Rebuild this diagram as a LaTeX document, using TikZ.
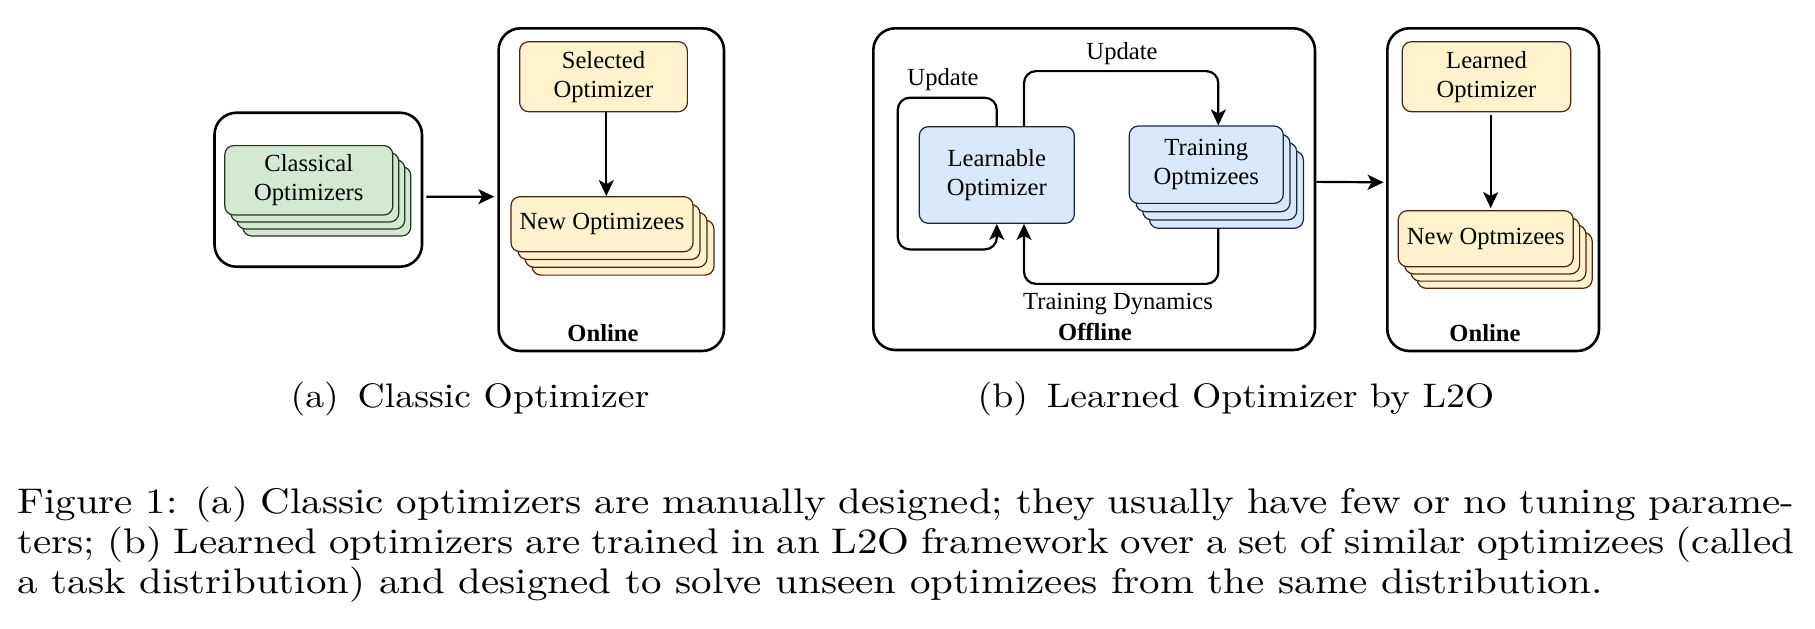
\documentclass[tikz,border=0pt]{standalone}
\usepackage{fontspec}
\usepackage{graphicx}
\newfontfamily\tnr{Liberation Serif}
\usetikzlibrary{arrows.meta,calc}
\definecolor{gfill}{HTML}{D5E8D4}
\definecolor{gdraw}{HTML}{22331F}
\definecolor{yfill}{HTML}{FFF2CC}
\definecolor{ydraw}{HTML}{4A2510}
\definecolor{bfill}{HTML}{DAE8FC}
\definecolor{bdraw}{HTML}{1C2535}
\newcommand\capline[1]{\scalebox{2.05}[1.78]{\fontsize{10pt}{12pt}\selectfont #1}}
\newcommand\subline[1]{\scalebox{1.885}[1.7]{\fontsize{10pt}{12pt}\selectfont #1}}
\begin{document}
\begin{tikzpicture}[x=0.5pt,y=-0.5pt,
  outer/.style={draw=black,line width=1.3pt,rounded corners=11pt,inner sep=0pt},
  card/.style={draw=#1,line width=0.6pt,rounded corners=4.5pt,inner sep=0pt,align=center,
    font=\tnr\fontsize{12.3pt}{14.5pt}\selectfont},
  gcard/.style={card=gdraw,fill=gfill,minimum width=84pt,minimum height=34.7pt},
  yacard/.style={card=ydraw,fill=yfill,minimum width=91pt,minimum height=27.5pt},
  bcard/.style={card=bdraw,fill=bfill,minimum width=77pt,minimum height=38.65pt},
  ybcard/.style={card=ydraw,fill=yfill,minimum width=87.5pt,minimum height=28pt},
  conn/.style={draw=black,line width=1.1pt,-{Stealth[length=8pt,width=7.5pt,inset=2pt]}},
  lbl/.style={font=\tnr\fontsize{12.3pt}{14.5pt}\selectfont,inner sep=0pt},
  blbl/.style={font=\tnr\bfseries\fontsize{12.3pt}{14.5pt}\selectfont,inner sep=0pt},
  sub/.style={inner sep=0pt,anchor=base},
  capl/.style={inner sep=0pt,anchor=base west}
]
\useasboundingbox (0,0) rectangle (1815,628);

% ---------- (a) ----------
\node[outer,minimum width=103.75pt,minimum height=77pt] (boxA) at (318.25,189.7) {};
\node[gcard] (cls3) at (326.8,201.3) {};
\node[gcard] (cls2) at (320.8,194.3) {};
\node[gcard] (cls1) at (314.8,187.3) {};
\node[gcard] (cls) at (308.8,180.3) {Classical\\Optimizers};

\node[outer,minimum width=112.7pt,minimum height=161.35pt] (onA) at (611.3,189.65) {};
\node[yacard,minimum width=83.85pt,minimum height=35pt] (selA) at (603.5,76.7) {Selected\\Optimizer};
\node[yacard] (newA3) at (623,247.6) {};
\node[yacard] (newA2) at (616,239.8) {};
\node[yacard] (newA1) at (609,232) {};
\node[yacard] (newA) at (602,224.2) {New Optimizees};
\node[blbl] (onlA) at (603,333) {Online};

\draw[conn,shorten <=1.5pt,shorten >=1.5pt] ([yshift=-3.5pt]boxA.east) -- ([yshift=-3.5pt]onA.west);
\draw[conn] ([xshift=1.4pt]selA.south) -- ([xshift=1.4pt]selA.south |- newA.north);

% ---------- (b) ----------
\node[outer,minimum width=220.85pt,minimum height=160.85pt] (offB) at (1094.15,189.15) {};
\node[card=bdraw,fill=bfill,minimum width=77.5pt,minimum height=48.3pt] (lrn) at (996.8,175) {Learnable\\Optimizer};
\node[bcard] (trn3) at (1226.4,189.6) {};
\node[bcard] (trn2) at (1219.7,181.3) {};
\node[bcard] (trn1) at (1213,173) {};
\node[bcard] (trn) at (1206.3,164.7) {Training\\Optmizees};

\draw[conn,rounded corners=6pt] (lrn.north) -- ++(0,-28.4) -- ++(-99,0) -- ++(0,151.7) -| (lrn.south);
\draw[conn,rounded corners=6pt] ([xshift=13.6pt]lrn.north) -- ++(0,-55) -| ([xshift=6pt]trn.north);
\draw[conn,rounded corners=6pt] ([xshift=6pt]trn.north |- trn3.south) -- ++(0,55) -| ([xshift=13.6pt]lrn.south);

\node[lbl] (upd1) at (943,80) {Update};
\node[lbl] (upd2) at (1122,54) {Update};
\node[lbl] (dyn) at (1118,304) {Training Dynamics};
\node[blbl] (offl) at (1095,332) {Offline};

\node[outer,minimum width=105.85pt,minimum height=161.35pt] (onB) at (1493.15,189.65) {};
\node[ybcard,minimum width=84.2pt,minimum height=35pt] (lrd) at (1486.5,76.7) {Learned\\Optimizer};
\node[ybcard] (newB3) at (1504.7,260.3) {};
\node[ybcard] (newB2) at (1498.4,253.1) {};
\node[ybcard] (newB1) at (1492.1,245.9) {};
\node[ybcard] (newB) at (1485.8,238.7) {New Optmizees};
\node[blbl] (onlB) at (1485,333) {Online};

\draw[conn,shorten <=0pt,shorten >=1.2pt] ([yshift=3.65pt]offB.east) -- ([yshift=3.65pt]onB.west);
\draw[conn,shorten <=1.5pt,shorten >=1pt] ([xshift=2.1pt]lrd.south) -- ([xshift=2.1pt]lrd.south |- newB.north);

% ---------- captions ----------
\node[sub] (capa) at (470,407) {\subline{(a)\hspace{0.5em}Classic Optimizer}};
\node[sub] (capb) at (1236,407) {\subline{(b)\hspace{0.5em}Learned Optimizer by L2O}};

\node[capl] (cap1) at (17,513) {\capline{\makebox[433.4pt][s]{Figure 1: (a) Classic optimizers are manually designed; they usually have few or no tuning parame-}}};
\node[capl] (cap2) at (17,553) {\capline{\makebox[433.4pt][s]{ters; (b) Learned optimizers are trained in an L2O framework over a set of similar optimizees (called}}};
\node[capl] (cap3) at (17,593) {\capline{a task distribution) and designed to solve unseen optimizees from the same distribution.}};
\end{tikzpicture}
\end{document}
